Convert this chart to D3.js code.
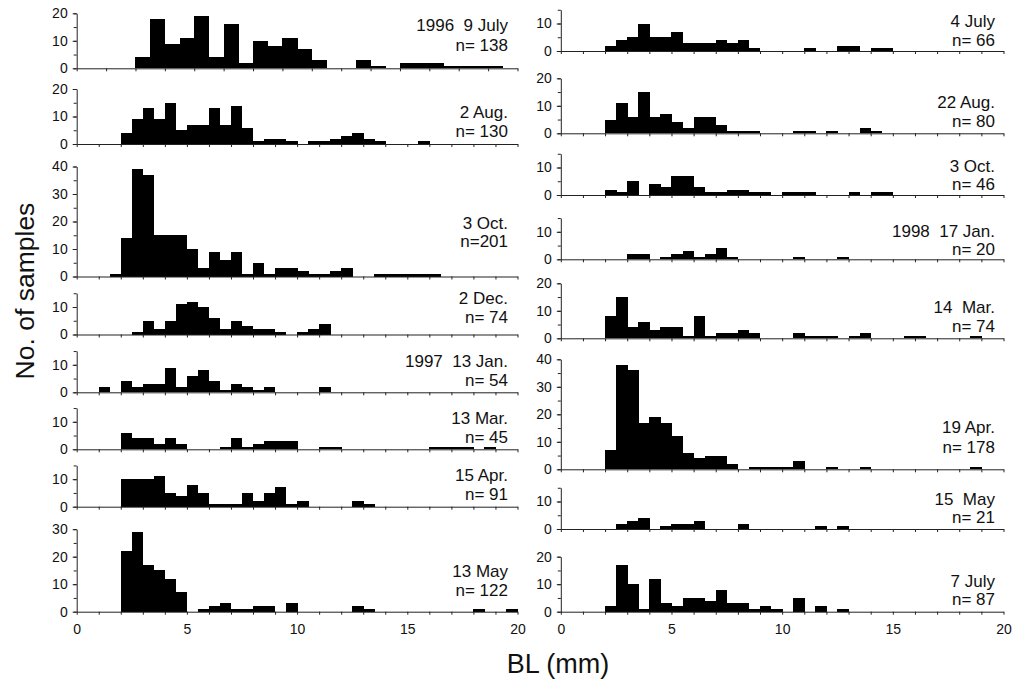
<!DOCTYPE html>
<html>
<head>
<meta charset="utf-8">
<script src="https://cdn.jsdelivr.net/npm/d3@7"></script>
<style>
  body { margin: 0; background: #fff; }
  svg text { font-family: "Liberation Sans", Arial, Helvetica, sans-serif; fill: #111; white-space: pre; }
  .axis path, .axis line { stroke: #222; stroke-width: 1; }
</style>
</head>
<body>
<svg id="chart" width="1013" height="684"></svg>
<script>
// Body length (BL) frequency histograms, 0.5 mm bins starting at 0 mm.
// Each array holds the counts per bin; trailing empty bins are omitted.
const BIN_MM = 0.5;
const xTickLabels = [0, 5, 10, 15, 20];

// 1996-1997 sampling dates
const jul96 = [0,0,0,0,4,18,9,11,19,4,16,2,10,8,11,7,3,0,0,3,1,0,2,2,2,1,1,1,1];
const aug96 = [0,0,0,0,4,9,13,9,15,5,7,7,13,7,14,6,1,2,2,1,0,1,1,2,3,4,2,1,0,0,0,1];
const oct96 = [0,0,0,1,14,39,37,15,15,15,10,3,9,6,9,1,5,1,3,3,2,1,1,2,3,0,0,1,1,1,1,1,1];
const dec96 = [0,0,0,0,0,1,5,2,5,11,12,10,6,2,5,3,2,2,1,0,1,2,4];
const jan97 = [0,0,2,0,4,2,3,3,9,2,6,8,4,1,3,2,1,2,0,0,0,0,2];
const mar97 = [0,0,0,0,6,4,4,2,4,2,0,0,0,1,4,1,2,3,3,3,0,0,1,1,0,0,0,0,0,0,0,0,1,1,1,1,0,1];
const apr97 = [0,0,0,0,10,10,10,11,5,4,8,5,1,1,1,5,2,5,7,1,2,0,0,0,0,2,1];
const may97 = [0,0,0,0,22,29,17,15,12,7,0,1,2,3,1,1,2,2,0,3,0,0,0,0,0,2,1,0,0,0,0,0,0,0,0,0,1,0,0,1];

// 1997-1998 sampling dates
const jul97 = [0,0,0,0,2,4,5,10,5,5,7,3,3,3,4,3,4,1,0,0,0,0,1,0,0,2,2,0,1,1];
const aug97 = [0,0,0,0,5,11,6,15,6,7,4,2,6,6,3,1,1,1,0,0,0,1,1,0,1,0,0,2,1];
const oct97 = [0,0,0,0,2,1,5,0,4,3,7,7,3,1,1,2,2,1,1,0,1,1,1,0,0,0,1,0,1,1];
const jan98 = [0,0,0,0,0,0,2,2,0,1,2,3,1,2,4,1,0,0,0,0,0,1,0,0,0,1];
const mar98 = [0,0,0,0,8,15,4,6,3,4,4,1,8,1,2,2,3,2,0,0,0,2,1,1,1,0,1,2,0,0,0,1,1,0,0,0,0,1];
const apr98 = [0,0,0,0,7,38,36,17,19,17,12,6,4,5,5,2,0,1,1,1,1,3,0,0,1,0,0,1,0,0,0,0,0,0,0,0,0,1];
const may98 = [0,0,0,0,0,2,3,4,0,1,2,2,3,0,0,0,2,0,0,0,0,0,0,1,0,1];
const jul98 = [0,0,0,0,2,17,10,1,12,3,2,5,5,4,8,3,3,1,2,1,0,5,0,2,0,1];

const dateLabels = [
  "1996  9 July", "2 Aug.", "3 Oct.", "2 Dec.", "1997  13 Jan.", "13 Mar.", "15 Apr.", "13 May",
  "4 July", "22 Aug.", "3 Oct.", "1998  17 Jan.", "14  Mar.", "19 Apr.", "15  May", "7 July"
];
const sampleSizes = [
  "n= 138", "n= 130", "n=201", "n= 74", "n= 54", "n= 45", "n= 91", "n= 122",
  "n= 66", "n= 80", "n= 46", "n= 20", "n= 74", "n= 178", "n= 21", "n= 87"
];
const yAxisMax = [20, 20, 40, 15, 15, 15, 15, 30, 15, 20, 15, 15, 20, 40, 15, 20];
const xAxisMax = [15, 20, 20, 20, 20, 20, 20, 20, 20, 20, 20, 20, 20, 20, 20, 20];
const seriesList = [jul96, aug96, oct96, dec96, jan97, mar97, apr97, may97,
                    jul97, aug97, oct97, jan98, mar98, apr98, may98, jul98];

// ---- layout ----
const columns = [
  { x0: 76.7, x1: 517.5, textRight: 508 },
  { x0: 560.8, x1: 1003.5, textRight: 995 }
];
const PX_PER_COUNT = 2.75;
// baseline (y of count 0) and text baselines for each panel
const zeroY   = [68.3, 144, 276.5, 334.5, 392.3, 449.3, 506.7, 611.7,
                 51, 133.3, 195, 259.3, 338.3, 469.3, 529, 611.7];
const line1Y  = [30.7, 118, 229, 304.3, 366.7, 424, 481, 576.7,
                 27.3, 108.3, 171.7, 236.7, 313.3, 433, 505, 586.7];
const line2Y  = [50.7, 137, 247.3, 323.3, 385.7, 442.7, 500, 596,
                 45.7, 126.7, 190, 255, 331.7, 452.5, 523.3, 605];

const svg = d3.select("#chart");

seriesList.forEach((counts, p) => {
  const col = columns[p < 8 ? 0 : 1];
  const bottomRow = (p === 7 || p === 15);
  const x = d3.scaleLinear().domain([0, xAxisMax[p]]).range([col.x0, col.x1]);
  const top = zeroY[p] - yAxisMax[p] * PX_PER_COUNT;
  const y = d3.scaleLinear().domain([0, yAxisMax[p]]).range([zeroY[p], top]);

  const g = svg.append("g");

  const bins = counts.map((c, i) => ({ x0: i * BIN_MM, x1: (i + 1) * BIN_MM, c }))
                     .filter(d => d.c > 0);
  g.selectAll("rect").data(bins).join("rect")
    .attr("x", d => x(d.x0))
    .attr("width", d => x(d.x1) - x(d.x0) + 0.4)
    .attr("y", d => y(d.c))
    .attr("height", d => y(0) - y(d.c))
    .attr("fill", "#000")
    .attr("shape-rendering", "crispEdges");

  // y axis: minor ticks every 5, labelled every 10
  g.append("g").attr("class", "axis")
    .attr("transform", `translate(${col.x0},0)`)
    .call(d3.axisLeft(y).tickValues(d3.range(0, yAxisMax[p] + 0.01, 5))
          .tickSize(3).tickSizeOuter(0).tickFormat(""));
  const ya = g.append("g").attr("class", "axis")
    .attr("transform", `translate(${col.x0},0)`)
    .call(d3.axisLeft(y).tickValues(d3.range(0, yAxisMax[p] + 0.01, 10))
          .tickSize(4).tickSizeOuter(0).tickPadding(5));
  ya.select(".domain").remove();
  ya.selectAll("text").attr("font-size", 14).style("font-family", "Liberation Sans, Arial, sans-serif").attr("fill", "#111");

  // x axis: ticks every 1 mm
  const xa = g.append("g").attr("class", "axis")
    .attr("transform", `translate(0,${zeroY[p]})`)
    .call(d3.axisBottom(x).tickValues(d3.range(0, xAxisMax[p] + 0.01, 1))
          .tickSize(3).tickSizeOuter(0).tickPadding(9)
          .tickFormat(d => bottomRow && xTickLabels.includes(d) ? d : ""));
  xa.selectAll("text").attr("font-size", 14).style("font-family", "Liberation Sans, Arial, sans-serif").attr("fill", "#111");

  // date and sample size
  g.append("text").attr("x", col.textRight).attr("y", line1Y[p])
    .attr("text-anchor", "end").attr("font-size", 17).text(dateLabels[p]);
  g.append("text").attr("x", col.textRight).attr("y", line2Y[p])
    .attr("text-anchor", "end").attr("font-size", 17).text(sampleSizes[p]);
});

svg.append("text")
  .attr("transform", "translate(34,291) rotate(-90)")
  .attr("text-anchor", "middle").attr("font-size", 26.5)
  .text("No. of samples");

svg.append("text")
  .attr("x", 558).attr("y", 673)
  .attr("text-anchor", "middle").attr("font-size", 27)
  .text("BL (mm)");
</script>
</body>
</html>
